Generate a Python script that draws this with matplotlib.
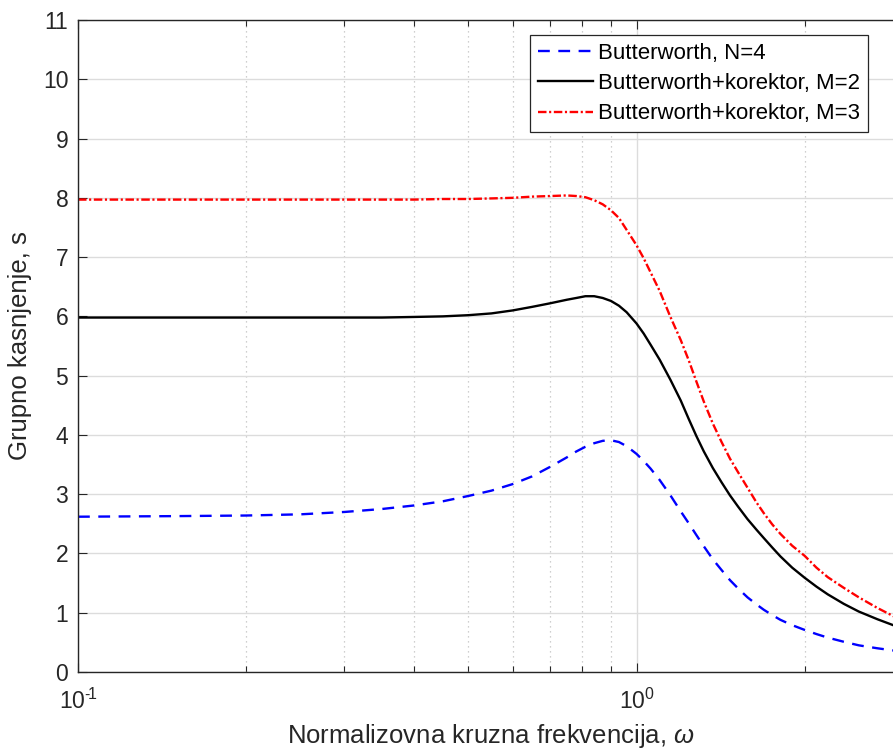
import numpy as np
import matplotlib
matplotlib.use("Agg")
import matplotlib.pyplot as plt
from matplotlib.ticker import FixedLocator, FixedFormatter

plt.rcParams["font.family"] = ["Liberation Sans", "DejaVu Sans"]
plt.rcParams["mathtext.fontset"] = "custom"
plt.rcParams["mathtext.rm"] = "Liberation Sans"
plt.rcParams["mathtext.it"] = "Liberation Sans:italic"

# normalized angular frequency
w = [0.1, 0.15, 0.2, 0.25, 0.3, 0.35, 0.4, 0.45, 0.5, 0.55, 0.6, 0.65, 0.7,
     0.75, 0.78, 0.81, 0.84, 0.87, 0.9, 0.93, 0.96, 1.0, 1.03, 1.06, 1.1,
     1.15, 1.2, 1.24, 1.28, 1.32, 1.37, 1.42, 1.47, 1.52, 1.58, 1.64, 1.69,
     1.75, 1.81, 1.9, 2.0, 2.1, 2.2, 2.35, 2.5, 2.7, 2.9]

# group delay, Butterworth N=4
tau_bw = [2.62, 2.63, 2.64, 2.66, 2.70, 2.75, 2.81, 2.88, 2.97, 3.06, 3.17,
          3.30, 3.46, 3.62, 3.72, 3.80, 3.86, 3.90, 3.91, 3.88, 3.81, 3.68,
          3.56, 3.43, 3.24, 2.98, 2.71, 2.51, 2.31, 2.12, 1.90, 1.72, 1.55,
          1.41, 1.26, 1.14, 1.05, 0.96, 0.88, 0.79, 0.71, 0.64, 0.58, 0.51,
          0.45, 0.40, 0.36]

# Butterworth + corrector, M=2
tau_m2 = [5.98, 5.98, 5.98, 5.98, 5.98, 5.98, 5.99, 6.00, 6.02, 6.05, 6.10,
          6.16, 6.22, 6.28, 6.31, 6.34, 6.34, 6.31, 6.26, 6.18, 6.07, 5.88,
          5.71, 5.52, 5.27, 4.93, 4.58, 4.27, 3.98, 3.72, 3.44, 3.20, 2.98,
          2.79, 2.58, 2.40, 2.26, 2.10, 1.95, 1.76, 1.59, 1.44, 1.31, 1.15,
          1.02, 0.89, 0.78]

# Butterworth + corrector, M=3
tau_m3 = [7.97, 7.97, 7.97, 7.97, 7.97, 7.97, 7.97, 7.98, 7.98, 7.99, 8.00,
          8.02, 8.03, 8.04, 8.03, 8.01, 7.96, 7.89, 7.79, 7.66, 7.46, 7.20,
          6.98, 6.74, 6.43, 5.99, 5.60, 5.26, 4.90, 4.56, 4.19, 3.88, 3.60,
          3.37, 3.11, 2.86, 2.68, 2.49, 2.33, 2.13, 1.96, 1.76, 1.60, 1.42,
          1.26, 1.08, 0.93]

labels = ["Butterworth, N=4", "Butterworth+korektor, M=2",
          "Butterworth+korektor, M=3"]

fig = plt.figure(figsize=(8.93, 7.51), dpi=100)
ax = fig.add_axes([78 / 893, 79 / 751, 825 / 893, 652 / 751])

ax.semilogx(w, tau_bw, color="#0000ff", lw=1.7, dashes=(5.0, 3.6), label=labels[0])
ax.semilogx(w, tau_m2, color="black", lw=1.7, label=labels[1])
ax.semilogx(w, tau_m3, color="#ff0000", lw=1.7, dashes=(3.6, 1.1, 0.9, 1.1), label=labels[2])

ax.set_xlim(0.1, 3)
ax.set_ylim(0, 11)
ax.set_yticks(range(0, 12))
ax.xaxis.set_major_locator(FixedLocator([0.1, 1]))
ax.xaxis.set_major_formatter(FixedFormatter(["$10^{\u2010\\!1}$", "$10^{0}$"]))
ax.xaxis.set_minor_locator(FixedLocator([0.2, 0.3, 0.4, 0.5, 0.6, 0.7, 0.8, 0.9, 2, 3]))

ax.grid(True, which="major", color="#dcdcdc", lw=1.0, ls="-")
ax.grid(True, which="minor", axis="x", color="#c0c0c0", lw=0.9, ls=(0, (1, 3)))
ax.set_axisbelow(True)

ax.tick_params(which="both", direction="in", top=True, right=True,
               labelsize=16.5, colors="#262626", width=0.8)
ax.tick_params(which="major", length=6.5)
ax.tick_params(which="minor", length=4.3)
ax.tick_params(axis="x", which="major", pad=12)
ax.tick_params(axis="y", which="major", pad=7)
for s in ax.spines.values():
    s.set_color("#262626")
    s.set_linewidth(1.0)

ax.set_xlabel("Normalizovna kruzna frekvencija, $\\omega$", fontsize=18.5,
              color="#262626", labelpad=6)
ax.set_ylabel("Grupno kasnjenje, s", fontsize=18.5, color="#262626", labelpad=8)

leg = ax.legend(loc="upper right", bbox_to_anchor=(868 / 893, 1 - 35 / 751),
                bbox_transform=fig.transFigure, fontsize=16, fancybox=False,
                framealpha=1, edgecolor="#262626", handlelength=2.5,
                handletextpad=0.22, borderpad=0.35, labelspacing=0.42,
                borderaxespad=0)
leg.get_frame().set_linewidth(0.9)

fig.savefig("out.png", dpi=100)
